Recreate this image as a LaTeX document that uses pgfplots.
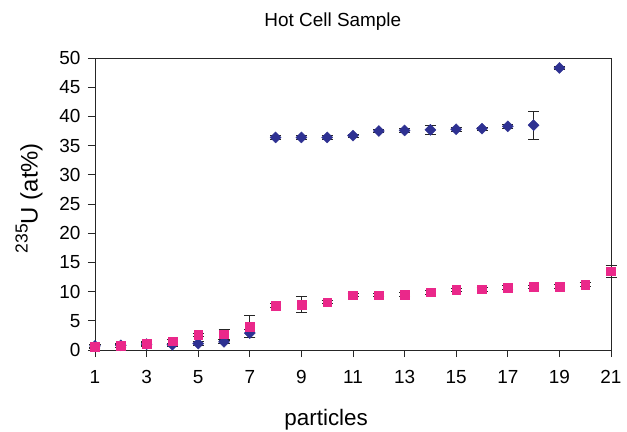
\documentclass[border=0pt]{standalone}
\usepackage{fontspec}
\setmainfont{Liberation Sans}
\usepackage{pgfplots}
\pgfplotsset{compat=1.18}
\definecolor{navyb}{RGB}{46,49,146}
\definecolor{pinkm}{RGB}{234,40,138}
\begin{document}
\begin{tikzpicture}
\begin{axis}[
  scale only axis, width=516bp, height=292bp,
  xmin=1, xmax=21, ymin=0, ymax=50,
  xtick={1,3,...,21}, ytick={0,5,...,50},
  tick align=outside, tick pos=left, major tick length=7bp,
  axis line style={line width=0.8bp, black!85},
  every tick/.style={line width=0.8bp, black!85},
  tick label style={font=\fontsize{19}{22}\selectfont},
  xticklabel style={yshift=-10bp},
  yticklabel style={xshift=-4bp},
  /pgf/number format/assume math mode=true,
  clip=false,
  every axis title shift=0pt,
  title={Hot Cell Sample},
  title style={font=\fontsize{19}{22}\selectfont, at={(axis description cs:0.461,1.107)}, anchor=base},
  xlabel={particles},
  xlabel style={font=\fontsize{22.5}{26}\selectfont, at={(axis description cs:0.448,-0.257)}, anchor=base},
  ylabel={\raisebox{0.42em}{\fontsize{17.5}{18}\selectfont 235}U (at\%)},
  ylabel style={font=\fontsize{24}{28}\selectfont, at={(axis description cs:-0.128,0.52)}, anchor=center, rotate=0},
  error bars/error bar style={line width=0.8bp, black!85},
  error bars/error mark options={rotate=90, line width=0.8bp, black!85, mark size=5.5bp},
]
\addplot[only marks, mark=square*, mark size=3.9bp, mark options={rotate=45, fill=navyb, draw=navyb},
  error bars/.cd, y dir=both, y explicit]
  table[x=x, y=y, y error=e] {
x y e
1 0.7 0.3
2 0.8 0.3
3 1.0 0.3
4 0.9 0.3
5 1.1 0.3
6 1.4 0.3
7 2.9 0.7
8 36.4 0.4
9 36.4 0.4
10 36.4 0.4
11 36.7 0.3
12 37.5 0.3
13 37.6 0.3
14 37.7 0.8
15 37.8 0.3
16 37.9 0.3
17 38.3 0.3
18 38.5 2.4
19 48.3 0.3
};
\addplot[only marks, mark=square*, mark size=4.4bp, mark options={fill=pinkm, draw=pinkm},
  error bars/.cd, y dir=both, y explicit]
  table[x=x, y=y, y error=e] {
x y e
1 0.6 0.3
2 0.7 0.3
3 1.1 0.3
4 1.5 0.3
5 2.6 0.3
6 2.7 0.8
7 4.0 1.9
8 7.6 0.3
9 7.8 1.4
10 8.2 0.3
11 9.4 0.3
12 9.4 0.3
13 9.5 0.3
14 9.9 0.3
15 10.3 0.3
16 10.4 0.3
17 10.7 0.3
18 10.8 0.3
19 10.9 0.3
20 11.2 0.3
21 13.5 1.0
};
\end{axis}
\pgfresetboundingbox
\path ([shift={(-95bp,-82bp)}]current axis.south west) rectangle ([shift={(16bp,58bp)}]current axis.north east);
\end{tikzpicture}
\end{document}
